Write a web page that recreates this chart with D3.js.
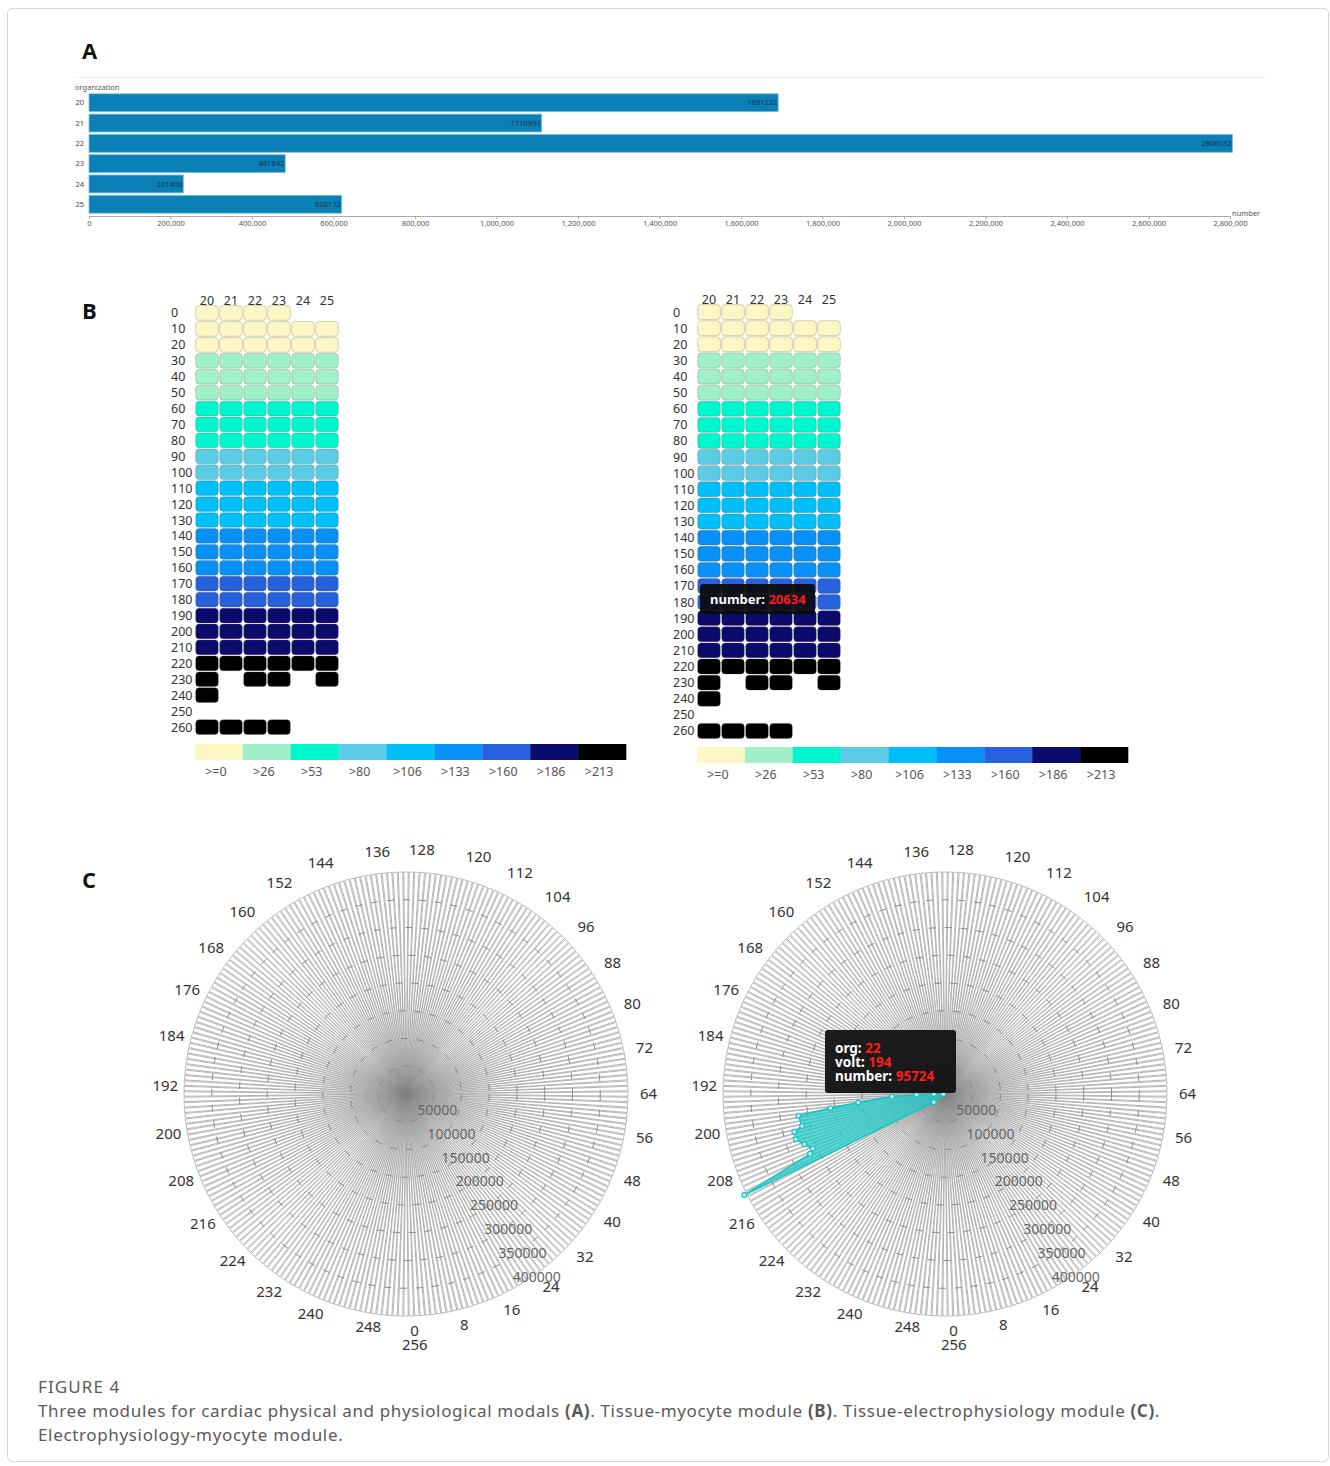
<!DOCTYPE html>
<html>
<head>
<meta charset="utf-8">
<script src="https://cdn.jsdelivr.net/npm/d3@7"></script>
<style>
  body { margin: 0; background: #fff; }
  svg { display: block; }
  text { font-family: "Noto Sans", "Open Sans", sans-serif; }
</style>
</head>
<body>
<div id="fig"></div>
<script>
// ---- panel A data
const orgs = ["20", "21", "22", "23", "24", "25"];
const orgTotals = [1691232, 1110991, 2806032, 481642, 231400, 620172];

// ---- panel B data (rows = volt, columns = organization, 1 = cell present)
const voltRows = [0, 10, 20, 30, 40, 50, 60, 70, 80, 90, 100, 110, 120, 130, 140,
  150, 160, 170, 180, 190, 200, 210, 220, 230, 240, 250, 260];
const presence = [
  [1, 1, 1, 1, 0, 0], // 0
  [1, 1, 1, 1, 1, 1], // 10
  [1, 1, 1, 1, 1, 1], // 20
  [1, 1, 1, 1, 1, 1], // 30
  [1, 1, 1, 1, 1, 1], // 40
  [1, 1, 1, 1, 1, 1], // 50
  [1, 1, 1, 1, 1, 1], // 60
  [1, 1, 1, 1, 1, 1], // 70
  [1, 1, 1, 1, 1, 1], // 80
  [1, 1, 1, 1, 1, 1], // 90
  [1, 1, 1, 1, 1, 1], // 100
  [1, 1, 1, 1, 1, 1], // 110
  [1, 1, 1, 1, 1, 1], // 120
  [1, 1, 1, 1, 1, 1], // 130
  [1, 1, 1, 1, 1, 1], // 140
  [1, 1, 1, 1, 1, 1], // 150
  [1, 1, 1, 1, 1, 1], // 160
  [1, 1, 1, 1, 1, 1], // 170
  [1, 1, 1, 1, 1, 1], // 180
  [1, 1, 1, 1, 1, 1], // 190
  [1, 1, 1, 1, 1, 1], // 200
  [1, 1, 1, 1, 1, 1], // 210
  [1, 1, 1, 1, 1, 1], // 220
  [1, 0, 1, 1, 0, 1], // 230
  [1, 0, 0, 0, 0, 0], // 240
  [0, 0, 0, 0, 0, 0], // 250
  [1, 1, 1, 1, 0, 0]  // 260
];
const pieceBreaks = [26, 53, 80, 106, 133, 160, 186, 213];
const pieceLabels = [">=0", ">26", ">53", ">80", ">106", ">133", ">160", ">186", ">213"];
const pieceColors = ["#fdf7c4", "#a0f1c9", "#00f6cf", "#5ccbe6", "#00bef8",
  "#0890f6", "#2861de", "#0b0b6c", "#000000"];
const tipNumberB = 20634;

// ---- panel C data (org 22, volt vs number)
const angleMax = 256;
const radiusMax = 400000;
const org22Volts = [190, 192, 193, 194, 196, 197, 198, 201, 202, 204, 206, 208, 209, 211, 218];
const org22Numbers = [3000, 20000, 51000, 95724, 157000, 208000, 267000, 264000,
  280000, 281000, 269000, 258000, 266000, 405000, 25000];
const tipC = { org: 22, volt: 194, number: 95724 };

const W = 1330, H = 1466;
const svg = d3.select("#fig").append("svg")
  .attr("width", W).attr("height", H);

svg.append("rect").attr("width", W).attr("height", H).attr("fill", "#fff");
// figure frame
svg.append("rect")
  .attr("x", 7.5).attr("y", 8.5).attr("width", 1321).attr("height", 1453)
  .attr("rx", 5).attr("fill", "none").attr("stroke", "#d4d4d4");

// shading where all the polar spokes converge
const defs = svg.append("defs");
const grad = defs.append("radialGradient").attr("id", "hub");
grad.append("stop").attr("offset", "0%").attr("stop-color", "#6e6e6e").attr("stop-opacity", 0.6);
grad.append("stop").attr("offset", "45%").attr("stop-color", "#8a8a8a").attr("stop-opacity", 0.3);
grad.append("stop").attr("offset", "100%").attr("stop-color", "#aaa").attr("stop-opacity", 0);

// panel letters
[["A", 51], ["B", 311], ["C", 880]].forEach(([t, y]) => {
  svg.append("text").attr("x", 82).attr("y", y + 8)
    .style("font-family", "'Open Sans', sans-serif")
    .style("font-size", "22px").style("font-weight", "700")
    .attr("fill", "#111").text(t);
});

// ================= panel A =================
(function drawBars() {
  const g = svg.append("g");
  const x = d3.scaleLinear().domain([0, 2800000]).range([89, 1230]);
  const y = d3.scaleBand().domain(orgs).range([93, 214]).paddingInner(0.12).paddingOuter(0.04);

  g.append("line").attr("x1", 75).attr("x2", 1265).attr("y1", 77.5).attr("y2", 77.5)
    .attr("stroke", "#efefef");

  g.append("text").attr("x", 75).attr("y", 90).attr("fill", "#555")
    .style("font-size", "7.5px").text("organization");

  g.selectAll("rect.bar").data(orgTotals).enter().append("rect")
    .attr("class", "bar")
    .attr("x", x(0)).attr("y", (d, i) => y(orgs[i]))
    .attr("width", d => x(d) - x(0)).attr("height", y.bandwidth())
    .attr("fill", "#0a80b6").attr("stroke", "#7cc0de").attr("stroke-width", 0.8);

  g.selectAll("text.val").data(orgTotals).enter().append("text")
    .attr("class", "val")
    .attr("x", d => x(d) - 1).attr("y", (d, i) => y(orgs[i]) + y.bandwidth() / 2 + 2.6)
    .attr("text-anchor", "end").attr("fill", "#13324a")
    .style("font-size", "7.5px").text(d => d);

  g.selectAll("text.org").data(orgs).enter().append("text")
    .attr("class", "org")
    .attr("x", 84).attr("y", d => y(d) + y.bandwidth() / 2 + 2.6)
    .attr("text-anchor", "end").attr("fill", "#444")
    .style("font-size", "7.5px").text(d => d);

  const ax = g.append("g").attr("transform", "translate(0,216)")
    .call(d3.axisBottom(x).ticks(14).tickSize(3).tickFormat(d3.format(",")));
  ax.select(".domain").attr("stroke", "#aaa");
  ax.selectAll(".tick line").attr("stroke", "#aaa");
  ax.selectAll(".tick text").attr("fill", "#555").attr("dy", "0.55em")
    .style("font-size", "7.5px").style("font-family", "'Noto Sans', sans-serif");

  g.append("text").attr("x", 1232).attr("y", 215.5).attr("fill", "#555")
    .style("font-size", "7.5px").text("number");
})();

// ================= panel B =================
function pieceIndex(v) {
  return pieceBreaks.filter(t => v > t).length;
}

function drawHeatmap(xr, yr, legendY, withTip) {
  const g = svg.append("g");
  const x = d3.scaleBand().domain(orgs).range(xr);
  const y = d3.scaleBand().domain(voltRows).range(yr);

  const cells = [];
  voltRows.forEach((v, r) => orgs.forEach((o, c) => {
    if (presence[r][c]) cells.push({ org: o, volt: v });
  }));

  g.selectAll("rect.cell").data(cells).enter().append("rect")
    .attr("class", "cell")
    .attr("x", d => x(d.org) + 0.7).attr("y", d => y(d.volt) + 0.6)
    .attr("width", x.bandwidth() - 1.4).attr("height", y.bandwidth() - 1.2)
    .attr("rx", 3.5)
    .attr("fill", d => pieceColors[pieceIndex(d.volt)])
    .attr("stroke", "rgba(90,80,60,0.25)").attr("stroke-width", 1);

  g.selectAll("text.col").data(orgs).enter().append("text")
    .attr("class", "col")
    .attr("x", d => x(d) + x.bandwidth() / 2).attr("y", yr[0] - 0.5)
    .attr("text-anchor", "middle").attr("fill", "#333")
    .style("font-size", "12.5px").text(d => d);

  g.selectAll("text.row").data(voltRows).enter().append("text")
    .attr("class", "row")
    .attr("x", xr[0] - 24).attr("y", d => y(d) + y.bandwidth() / 2 + 4.5)
    .attr("text-anchor", "start").attr("fill", "#333")
    .style("font-size", "12.5px").text(d => d);

  // piecewise legend
  const lx = d3.scaleBand().domain(pieceLabels).range([xr[0], xr[0] + 431]);
  g.selectAll("rect.piece").data(pieceLabels).enter().append("rect")
    .attr("class", "piece")
    .attr("x", d => lx(d)).attr("y", legendY)
    .attr("width", lx.bandwidth() + 0.3).attr("height", 16)
    .attr("fill", (d, i) => pieceColors[i]);
  g.selectAll("text.piece").data(pieceLabels).enter().append("text")
    .attr("class", "piece")
    .attr("x", d => lx(d) + lx.bandwidth() / 2 - 3).attr("y", legendY + 32)
    .attr("text-anchor", "middle").attr("fill", "#555")
    .style("font-size", "12.5px").text(d => d);

  if (withTip) {
    const tx = xr[0] + 3, ty = y(170) + 6;
    g.append("rect").attr("x", tx).attr("y", ty).attr("width", 115).attr("height", 30)
      .attr("rx", 3).attr("fill", "#0a0a0a").attr("opacity", 0.92);
    const t = g.append("text").attr("x", tx + 10).attr("y", ty + 20)
      .style("font-size", "13px").style("font-weight", "700");
    t.append("tspan").attr("fill", "#fff").text("number: ");
    t.append("tspan").attr("fill", "#ff1a1a").text(tipNumberB);
  }
}

drawHeatmap([195, 339], [305, 735], 744, false);
drawHeatmap([697, 841], [304, 739], 747, true);

// ================= panel C =================
const R = 222;
const ang = d3.scaleLinear().domain([0, angleMax]).range([0, 2 * Math.PI]);
const rad = d3.scaleLinear().domain([0, radiusMax]).range([0, R]);
const slots = d3.range(0, angleMax);
const radialAxisDeg = 30.8;

function pt(v, r) {
  const a = ang(v);
  return [r * Math.sin(a), r * Math.cos(a)];
}

// small angular nudge of the angle-axis labels, as laid out in the original
function labelNudge(v) {
  const a = ang(v);
  return -0.66 + 1.62 * Math.cos(a) + 0.74 * Math.sin(a);
}

function drawPolar(cx, cy, withSeries) {
  const g = svg.append("g").attr("transform", `translate(${cx},${cy})`);

  const arc = d3.arc()
    .innerRadius(0).outerRadius(R)
    .startAngle(d => Math.PI - ang(d + 0.4))
    .endAngle(d => Math.PI - ang(d - 0.4));

  g.selectAll("path.slot").data(slots).enter().append("path")
    .attr("class", "slot").attr("d", arc)
    .attr("fill", "#fff").attr("stroke", "#9a9a9a").attr("stroke-width", 0.7);

  g.append("circle").attr("r", 48).attr("fill", "url(#hub)");

  const rTicks = rad.ticks(8).filter(d => d > 0);
  g.selectAll("circle.ring").data(rTicks.filter(d => d < radiusMax)).enter().append("circle")
    .attr("class", "ring").attr("r", d => rad(d))
    .attr("fill", "none").attr("stroke", "#8a8a8a").attr("stroke-width", 1)
    .attr("stroke-dasharray", "7,9");

  // radial axis labels
  const ra = radialAxisDeg * Math.PI / 180;
  const ux = Math.sin(ra), uy = Math.cos(ra);
  g.selectAll("text.rl").data(rTicks).enter().append("text")
    .attr("class", "rl")
    .attr("x", d => rad(d) * ux + 17)
    .attr("y", d => rad(d) * uy - 3)
    .attr("text-anchor", "middle").attr("fill", "#666")
    .style("font-size", "14px").text(d => d);

  // angle axis labels
  const aTicks = d3.range(0, angleMax + 1, 8);
  g.selectAll("text.al").data(aTicks).enter().append("text")
    .attr("class", "al")
    .each(function (v) {
      const vv = v + labelNudge(v);
      const s = Math.sin(ang(vv)), c = Math.cos(ang(vv));
      const rr = R + 9 + (v === angleMax ? 14 : 0);
      const [x, y] = pt(vv, rr);
      d3.select(this)
        .attr("x", x + 3)
        .attr("y", y + 5 + c * 6 + Math.min(c, 0) * 7)
        .attr("text-anchor", s > 0.2 ? "start" : s < -0.2 ? "end" : "middle");
    })
    .attr("fill", "#333").style("font-size", "15px").text(d => d);

  if (withSeries) {
    const pts = org22Volts.map((v, i) => pt(v, rad(org22Numbers[i])));
    g.append("path")
      .attr("d", d3.line().curve(d3.curveLinearClosed)(pts))
      .attr("fill", "#1ccaca").attr("fill-opacity", 0.72)
      .attr("stroke", "#19c4c4").attr("stroke-width", 1.6);
    g.selectAll("circle.pt").data(pts).enter().append("circle")
      .attr("class", "pt").attr("cx", d => d[0]).attr("cy", d => d[1]).attr("r", 2.4)
      .attr("fill", "#c8f4f4").attr("stroke", "#19c4c4").attr("stroke-width", 1.2);

    const tx = -120, ty = -64;
    g.append("rect").attr("x", tx).attr("y", ty).attr("width", 131).attr("height", 63)
      .attr("rx", 3).attr("fill", "#111").attr("opacity", 0.95);
    const lines = [["org: ", tipC.org], ["volt: ", tipC.volt], ["number: ", tipC.number]];
    lines.forEach(([k, v], i) => {
      const t = g.append("text").attr("x", tx + 10).attr("y", ty + 23 + i * 14)
        .style("font-size", "13.5px").style("font-weight", "700");
      t.append("tspan").attr("fill", "#fff").text(k);
      t.append("tspan").attr("fill", "#ff1a1a").text(v);
    });
  }
}

drawPolar(406, 1094, false);
drawPolar(945, 1094, true);

// ================= caption =================
const cap = svg.append("g").style("font-family", "'Open Sans', sans-serif").attr("fill", "#5a5a5a");
cap.append("text").attr("x", 38).attr("y", 1393).style("font-size", "17px")
  .style("letter-spacing", "1.1px").text("FIGURE 4");
const l1 = cap.append("text").attr("x", 38).attr("y", 1417).style("font-size", "17px")
  .style("letter-spacing", "0.65px");
[["Three modules for cardiac physical and physiological modals ", 0], ["(A)", 1],
 [". Tissue-myocyte module ", 0], ["(B)", 1], [". Tissue-electrophysiology module ", 0],
 ["(C)", 1], [".", 0]].forEach(([s, b]) => {
  l1.append("tspan").style("font-weight", b ? "700" : "400").text(s);
});
cap.append("text").attr("x", 38).attr("y", 1441).style("font-size", "17px")
  .style("letter-spacing", "0.65px").text("Electrophysiology-myocyte module.");
</script>
</body>
</html>
